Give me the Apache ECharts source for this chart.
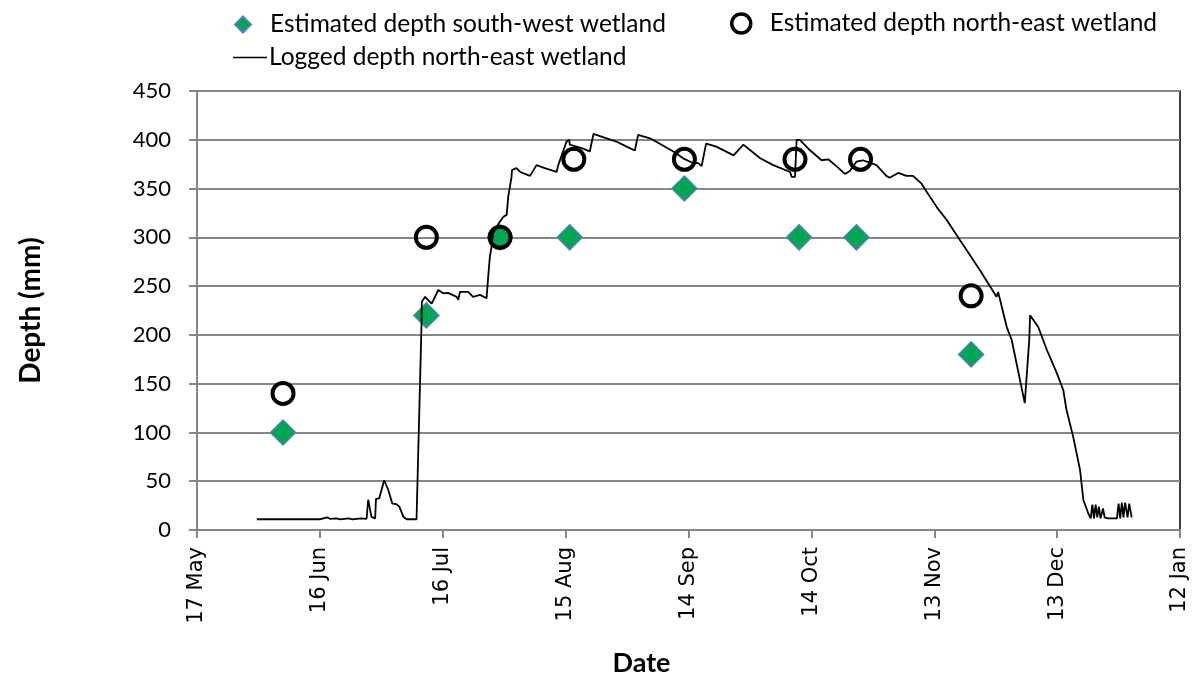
<!DOCTYPE html>
<html>
<head>
<meta charset="UTF-8">
<title>Wetland depth</title>
<script src="https://cdn.jsdelivr.net/npm/echarts@6/dist/echarts.min.js"></script>
</head>
<body style="margin:0">
<div id="main" style="width:1197px;height:677px;"></div>
<script>
// x values are days counted from 17 May
var tickLabels = ['17 May', '16 Jun', '16 Jul', '15 Aug', '14 Sep', '14 Oct', '13 Nov', '13 Dec', '12 Jan'];

var swDays  = [21, 56, 74, 91, 119, 147, 161, 189];
var swDepth = [100, 220, 300, 300, 350, 300, 300, 180];

var neDays  = [21, 56, 74, 92, 119, 146, 162, 189];
var neDepth = [140, 300, 300, 380, 380, 380, 380, 240];

var logDays = [14.6, 28.8, 29.2, 30, 31.7, 32.5, 34, 35, 37, 38, 40, 41.4, 41.8, 42.6, 43.5, 43.7, 44.5,
  45.7, 46.7, 47.7, 48.7, 49.4, 50.4, 51.2, 53.6, 54.8, 54.9, 55.7, 57.3, 58.9, 60.1, 61.3, 63.4, 63.8,
  64.2, 66.2, 67.4, 69.1, 70.7, 71.1, 71.5, 71.9, 72.3, 73.6, 74.8, 75.6, 76, 76.8, 76.9, 78, 78.9,
  81.3, 82.9, 84.9, 87.8, 88.2, 90.2, 90.9, 91, 94.3, 95.9, 96.8, 100, 102.5, 104.9, 106.9, 107.7,
  110.6, 113, 116.3, 118.7, 121.2, 122.4, 123.2, 124.3, 126.8, 131, 133.4, 137.5, 140.7, 144.8, 145.2,
  146, 146.4, 147.2, 149.6, 152.5, 154.1, 156.1, 158.2, 159.4, 161, 162.6, 165.9, 168.3, 169.1, 171.2,
  173.2, 174.8, 176.9, 178.1, 180.6, 183, 186.3, 188.7, 191.2, 195.2, 195.6, 197.7, 198.9, 202.1,
  203.2, 203.4, 205.4, 207.5, 209.9, 211.5, 212.3, 213.9, 215.6, 216.4, 217.6, 218.2, 218.6, 219,
  219.4, 219.8, 220.2, 220.6, 221.2, 221.6, 222.4, 224.6, 225, 225.4, 225.8, 226.2, 226.6, 227.2,
  227.6, 228.2];
var logDepth = [11, 11, 12.5, 11, 13, 11.5, 12, 11, 12, 11, 12, 11.5, 31, 13.5, 12, 32, 32.5,
  51, 41, 27, 26.5, 24, 13.5, 11, 11, 208, 234, 239, 232, 246, 242.6, 243, 239, 236,
  244, 244, 239, 241, 237.5, 260, 280, 290, 304, 314, 321, 323, 342, 362, 369, 371, 367,
  363, 374, 371, 367, 374, 398, 400, 395, 391, 388, 406, 401.5, 398, 393, 389, 405,
  401.5, 396, 388, 381, 376, 376, 373, 396, 393, 384, 395, 381, 374, 367, 362,
  362, 400, 400, 389.5, 379, 380, 373, 365, 368, 377.5, 379, 374, 363, 361, 366,
  363, 363, 355, 347, 331, 318, 297, 282, 266, 239, 244, 208, 195, 130,
  195, 220, 208, 184.5, 161, 143.5, 123, 96, 61.5, 31, 17, 12, 26, 12,
  26, 13, 24, 12, 22, 13, 12, 12, 27, 12, 28, 13, 28, 13,
  27, 13];

function pairs(xs, ys) {
  var out = [];
  for (var i = 0; i < xs.length; i++) out.push([xs[i], ys[i]]);
  return out;
}

var font = 'Lato';
var legendText = {fontFamily: font, fontSize: 24.5, color: '#000'};
var myChart = echarts.init(document.getElementById('main'));

var option = {
  animation: false,
  textStyle: {fontFamily: font, color: '#000'},
  legend: [
    {
      data: ['Estimated depth south-west wetland'],
      left: 229, top: 7, itemWidth: 16, itemHeight: 16,
      textStyle: Object.assign({padding: [0, 0, 0, 14]}, legendText)
    },
    {
      data: ['Estimated depth north-east wetland'],
      left: 725, top: 6, itemWidth: 19, itemHeight: 19,
      itemStyle: {borderColor: '#000', borderWidth: 3.5, color: 'rgba(0,0,0,0)'},
      textStyle: Object.assign({padding: [0, 0, 0, 14]}, legendText)
    },
    {
      data: [{name: 'Logged depth north-east wetland', icon: 'path://M0,0 L40,0 L40,2 L0,2 Z'}],
      left: 228, top: 40, itemWidth: 34, itemHeight: 2,
      textStyle: Object.assign({padding: [0, 0, 0, -3]}, legendText)
    }
  ],
  grid: {
    left: 197, right: 17, top: 91, bottom: 147,
    containLabel: false, outerBoundsMode: 'none',
    show: true, borderColor: '#000', borderWidth: 1.5
  },
  xAxis: {
    type: 'value',
    min: 0, max: 240, interval: 30,
    name: 'Date', nameLocation: 'middle', nameGap: 120,
    nameTextStyle: {fontFamily: font, fontSize: 27, fontWeight: 'bold', color: '#000', padding: [0, 94, 0, 0]},
    axisLine: {lineStyle: {color: '#868686', width: 2}},
    axisTick: {show: true, length: 8, lineStyle: {color: '#868686', width: 2}},
    splitLine: {show: false},
    axisLabel: {
      rotate: 90, margin: 17, fontFamily: 'DejaVu Sans', fontSize: 21, color: '#000',
      formatter: function (v) { return tickLabels[Math.round(v / 30)]; }
    }
  },
  yAxis: {
    type: 'value',
    min: 0, max: 450, interval: 50,
    name: 'Depth (mm)', nameLocation: 'middle', nameGap: 152,
    nameTextStyle: {fontFamily: font, fontSize: 28, fontWeight: 'bold', color: '#000'},
    axisLine: {show: true, lineStyle: {color: '#868686', width: 2}},
    axisTick: {show: true, length: 8, lineStyle: {color: '#868686', width: 2}},
    splitLine: {lineStyle: {color: '#868686', width: 2}},
    axisLabel: {margin: 26, fontFamily: font, fontSize: 22, color: '#000'}
  },
  series: [
    {
      name: 'Estimated depth south-west wetland',
      type: 'scatter',
      symbol: 'diamond',
      symbolSize: 25,
      itemStyle: {color: '#00A651', borderColor: '#4F81BD', borderWidth: 1.5, opacity: 1},
      data: pairs(swDays, swDepth),
      z: 2
    },
    {
      name: 'Estimated depth north-east wetland',
      type: 'scatter',
      symbol: 'circle',
      symbolSize: 21,
      itemStyle: {color: 'rgba(0,0,0,0)', borderColor: '#000', borderWidth: 4, opacity: 1},
      data: pairs(neDays, neDepth),
      z: 3
    },
    {
      name: 'Logged depth north-east wetland',
      type: 'line',
      showSymbol: false,
      symbol: 'none',
      lineStyle: {color: '#000', width: 1.8},
      itemStyle: {color: '#000'},
      data: pairs(logDays, logDepth),
      z: 4
    }
  ]
};

myChart.setOption(option);
</script>
</body>
</html>
